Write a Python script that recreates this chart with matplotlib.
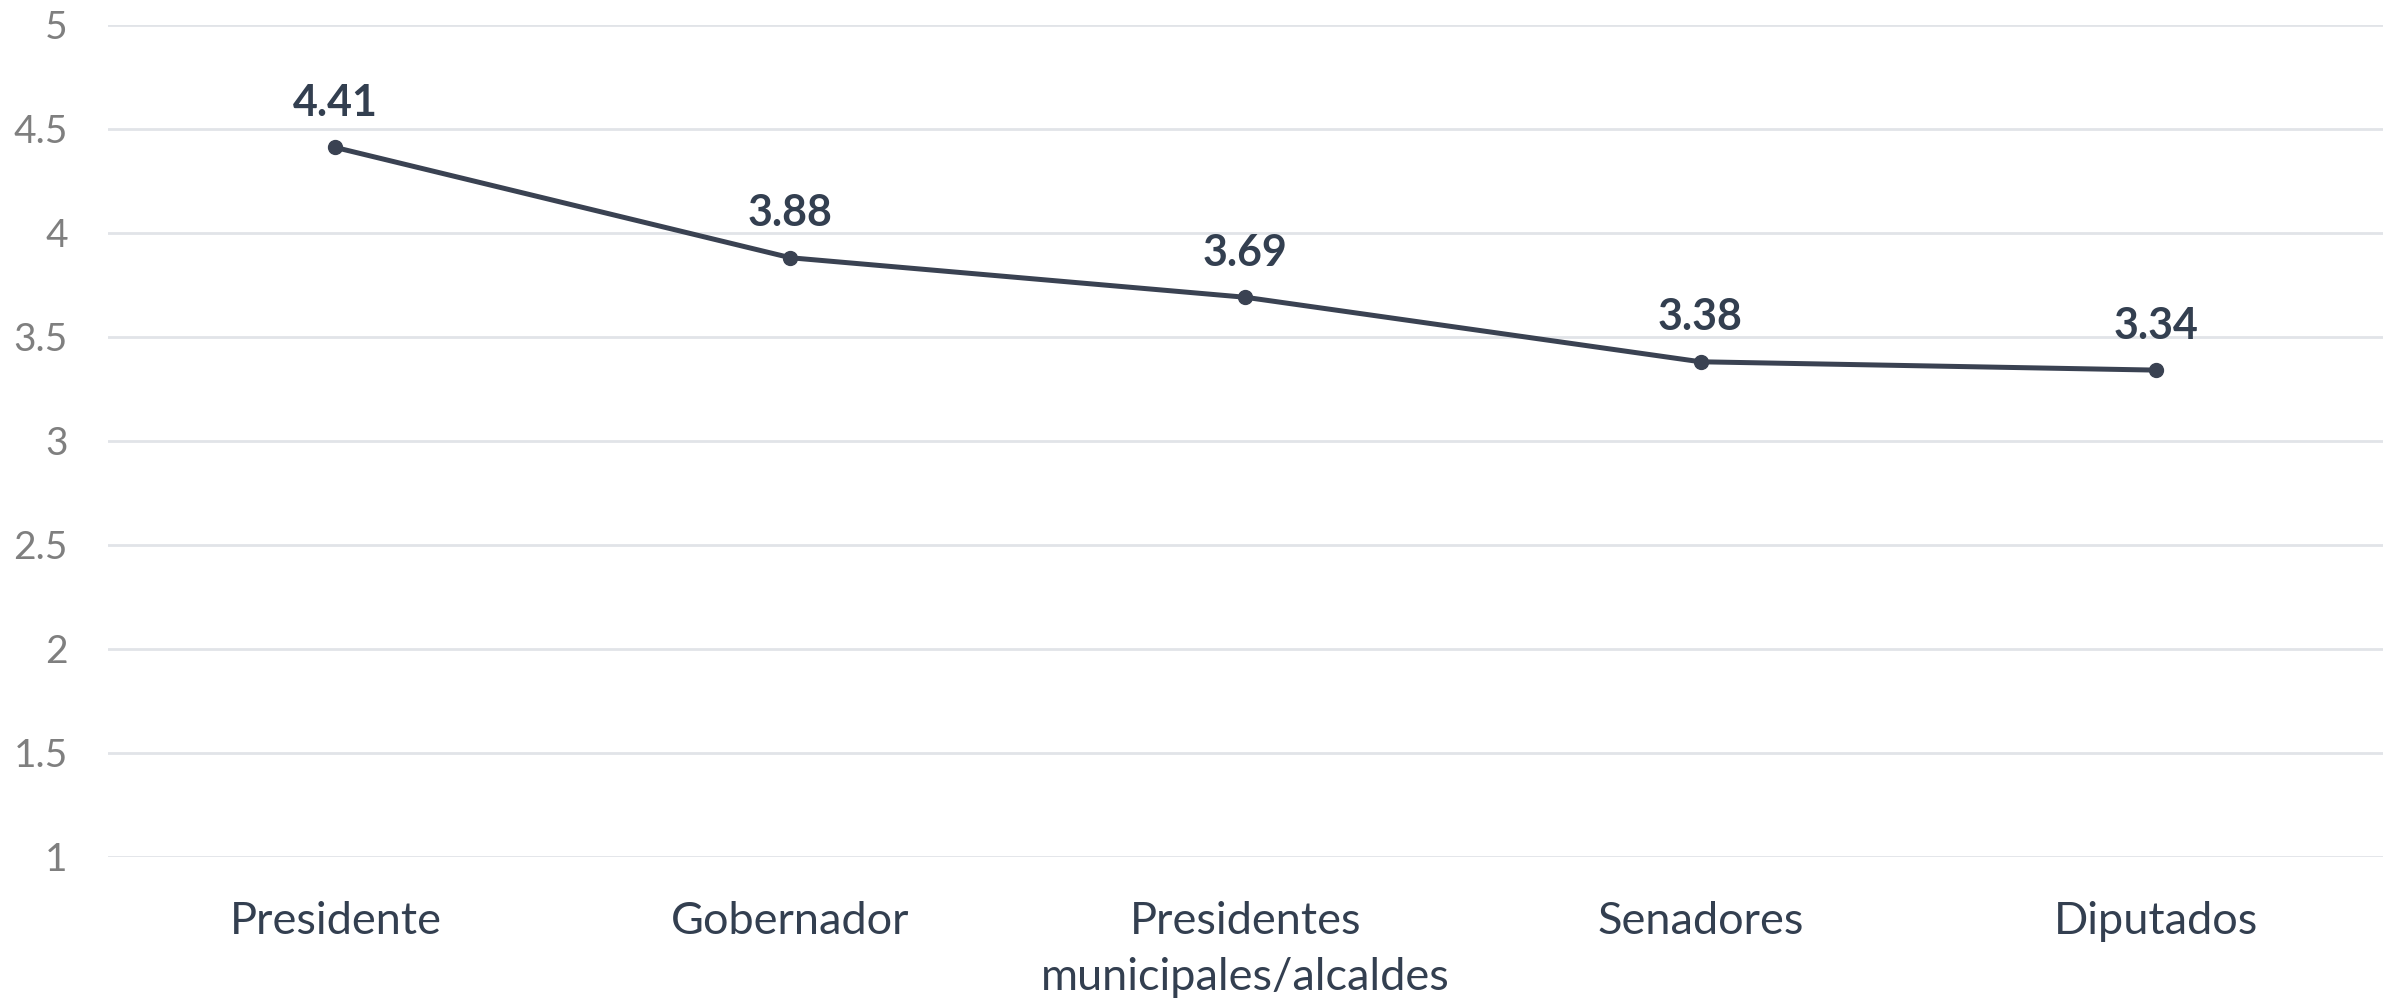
import matplotlib.pyplot as plt

categories = ["Presidente", "Gobernador", "Presidentes\nmunicipales/alcaldes", "Senadores", "Diputados"]
values = [4.41, 3.88, 3.69, 3.38, 3.34]
yticks = [1, 1.5, 2, 2.5, 3, 3.5, 4, 4.5, 5]
ytick_labels = ["1", "1.5", "2", "2.5", "3", "3.5", "4", "4.5", "5"]

plt.rcParams['font.family'] = ['Lato', 'DejaVu Sans']

line_color = "#3A4252"
text_color = "#333F50"

fig, ax = plt.subplots(figsize=(24.03, 10.01), dpi=100)
fig.subplots_adjust(left=0.0449, right=0.9917, top=0.9753, bottom=0.1439)

x = list(range(len(categories)))
ax.plot(x, values, color=line_color, linewidth=3.6, marker="o", markersize=10, zorder=3)

# value labels above points
for xi, v in zip(x, values):
    ax.annotate(f"{v:.2f}", (xi, v), xytext=(0, 32), textcoords="offset points",
                ha="center", va="center", fontsize=31, fontweight="bold", color=text_color)

ax.set_xlim(-0.5, len(categories) - 0.5)
ax.set_ylim(1, 5)
ax.set_yticks(yticks)
ax.set_yticklabels(ytick_labels, fontsize=28, color="#7F7F7F")
ax.set_xticks(x)
ax.set_xticklabels(categories, fontsize=32.5, color=text_color, linespacing=1.45)

ax.tick_params(axis="y", length=0, pad=29)
ax.tick_params(axis="x", length=0, pad=32)
ax.grid(axis="y", color="#E1E4E8", linewidth=2)
ax.set_axisbelow(True)
for s in ax.spines.values():
    s.set_visible(False)

plt.savefig("out.png", dpi=100)
